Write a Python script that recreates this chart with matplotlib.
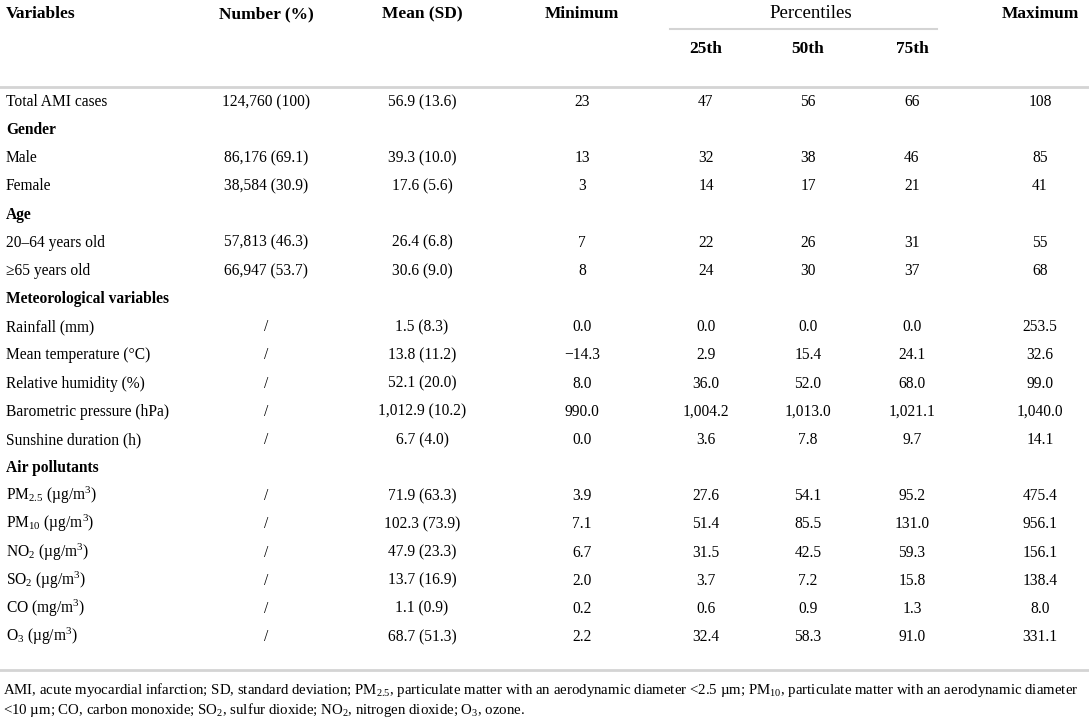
import matplotlib
matplotlib.use("Agg")
import matplotlib.pyplot as plt

plt.rcParams['font.family'] = ['Liberation Serif', 'DejaVu Serif']
plt.rcParams['mathtext.fontset'] = 'custom'
plt.rcParams['mathtext.rm'] = 'Liberation Serif'
plt.rcParams['mathtext.it'] = 'Liberation Serif:italic'
plt.rcParams['mathtext.bf'] = 'Liberation Serif:bold'

headers = ["Variables", "Number (%)", "Mean (SD)", "Minimum", "25th", "50th", "75th", "Maximum"]

variables = ["Total AMI cases", "Gender", "Male", "Female", "Age", "20–64 years old", "≥65 years old",
             "Meteorological variables", "Rainfall (mm)", "Mean temperature (°C)", "Relative humidity (%)",
             "Barometric pressure (hPa)", "Sunshine duration (h)", "Air pollutants",
             r"PM$_{2.5}$ (µg/m$^{3}$)", r"PM$_{10}$ (µg/m$^{3}$)", r"NO$_{2}$ (µg/m$^{3}$)",
             r"SO$_{2}$ (µg/m$^{3}$)", r"CO (mg/m$^{3}$)", r"O$_{3}$ (µg/m$^{3}$)"]
is_section = [False, True, False, False, True, False, False, True, False, False, False, False, False, True,
              False, False, False, False, False, False]
number = ["124,760 (100)", "", "86,176 (69.1)", "38,584 (30.9)", "", "57,813 (46.3)", "66,947 (53.7)",
          "", "/", "/", "/", "/", "/", "", "/", "/", "/", "/", "/", "/"]
mean_sd = ["56.9 (13.6)", "", "39.3 (10.0)", "17.6 (5.6)", "", "26.4 (6.8)", "30.6 (9.0)",
           "", "1.5 (8.3)", "13.8 (11.2)", "52.1 (20.0)", "1,012.9 (10.2)", "6.7 (4.0)", "",
           "71.9 (63.3)", "102.3 (73.9)", "47.9 (23.3)", "13.7 (16.9)", "1.1 (0.9)", "68.7 (51.3)"]
minimum = ["23", "", "13", "3", "", "7", "8", "", "0.0", "−14.3", "8.0", "990.0", "0.0", "",
           "3.9", "7.1", "6.7", "2.0", "0.2", "2.2"]
p25 = ["47", "", "32", "14", "", "22", "24", "", "0.0", "2.9", "36.0", "1,004.2", "3.6", "",
       "27.6", "51.4", "31.5", "3.7", "0.6", "32.4"]
p50 = ["56", "", "38", "17", "", "26", "30", "", "0.0", "15.4", "52.0", "1,013.0", "7.8", "",
       "54.1", "85.5", "42.5", "7.2", "0.9", "58.3"]
p75 = ["66", "", "46", "21", "", "31", "37", "", "0.0", "24.1", "68.0", "1,021.1", "9.7", "",
       "95.2", "131.0", "59.3", "15.8", "1.3", "91.0"]
maximum = ["108", "", "85", "41", "", "55", "68", "", "253.5", "32.6", "99.0", "1,040.0", "14.1", "",
           "475.4", "956.1", "156.1", "138.4", "8.0", "331.1"]

footnote = [r"AMI, acute myocardial infarction; SD, standard deviation; PM$_{2.5}$, particulate matter with an aerodynamic diameter <2.5 µm; PM$_{10}$, particulate matter with an aerodynamic diameter",
            r"<10 µm; CO, carbon monoxide; SO$_{2}$, sulfur dioxide; NO$_{2}$, nitrogen dioxide; O$_{3}$, ozone."]

W, H = 1089, 718
fig = plt.figure(figsize=(W / 100, H / 100), dpi=100)
ax = fig.add_axes([0, 0, 1, 1])
ax.set_xlim(0, W)
ax.set_ylim(H, 0)
ax.axis('off')

col_x = [6, 266, 422, 582, 706, 808, 912, 1040]
line_col = '#d4d4d4'
fs = 11.2
hfs = 12.5

# header (baseline positioning keeps bold / math rows level)
hy, sub_hy = 18, 53
for i, h in enumerate(headers):
    if i == 0:
        ax.text(col_x[0], hy, h, fontsize=hfs, fontweight='bold', ha='left', va='baseline')
    elif i in (4, 5, 6):
        ax.text(col_x[i], sub_hy, h, fontsize=hfs, fontweight='bold', ha='center', va='baseline')
    else:
        ax.text(col_x[i], hy, h, fontsize=hfs, fontweight='bold', ha='center', va='baseline')
ax.text(col_x[5] + 3, hy, "Percentiles", fontsize=13.5, ha='center', va='baseline')
ax.plot([670, 937], [29, 29], color=line_col, lw=1.5)
ax.plot([0, W], [87, 87], color=line_col, lw=2)

row_y0, row_dy = 106, 28.16
cols = [number, mean_sd, minimum, p25, p50, p75, maximum]
for r, name in enumerate(variables):
    y = row_y0 + r * row_dy
    ax.text(col_x[0], y, name, fontsize=fs, ha='left', va='baseline',
            fontweight='bold' if is_section[r] else 'normal')
    for c, col in enumerate(cols):
        if col[r]:
            ax.text(col_x[c + 1], y, col[r], fontsize=fs, ha='center', va='baseline')

ax.plot([0, W], [670, 670], color=line_col, lw=2)
for k, line in enumerate(footnote):
    ax.text(3, 694 + k * 20, line, fontsize=10.7, ha='left', va='baseline')

fig.savefig("out.png", dpi=100)
